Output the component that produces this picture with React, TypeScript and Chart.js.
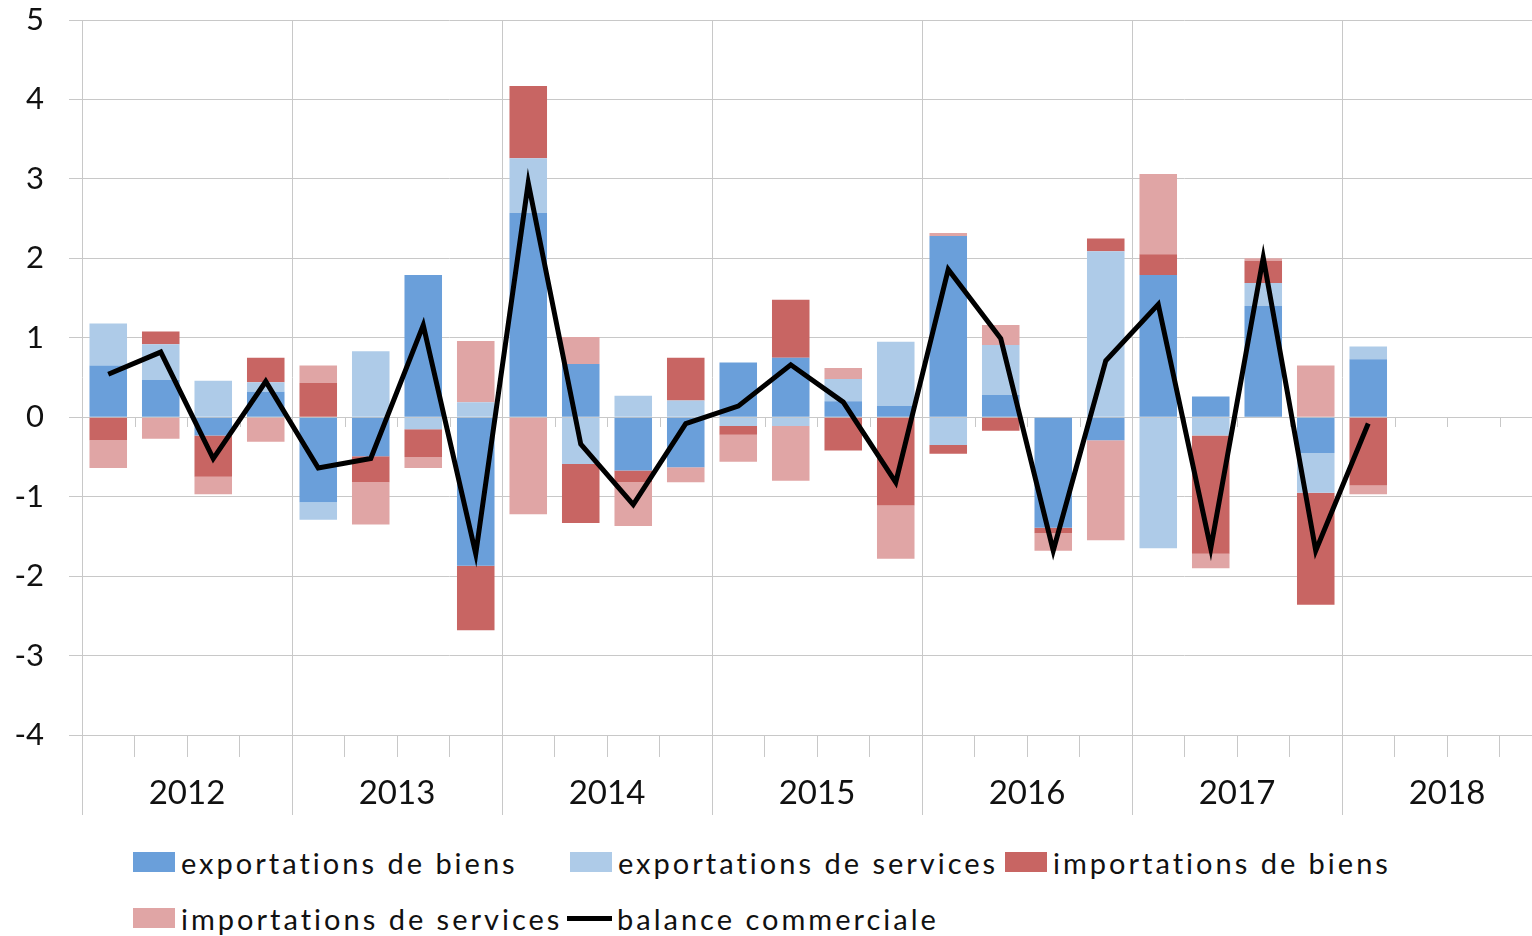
import { useEffect, useRef } from "react";
import { Chart, registerables } from "chart.js";

Chart.register(...registerables);

const quarterLabels = [
  "2012 T1", "2012 T2", "2012 T3", "2012 T4",
  "2013 T1", "2013 T2", "2013 T3", "2013 T4",
  "2014 T1", "2014 T2", "2014 T3", "2014 T4",
  "2015 T1", "2015 T2", "2015 T3", "2015 T4",
  "2016 T1", "2016 T2", "2016 T3", "2016 T4",
  "2017 T1", "2017 T2", "2017 T3", "2017 T4",
  "2018 T1", "2018 T2", "2018 T3", "2018 T4",
];

const yearLabels = ["2012", "2013", "2014", "2015", "2016", "2017", "2018"];

const exportsGoods = [0.65, 0.47, -0.23, 0.32, -1.07, -0.49, 1.79, -1.87, 2.57, 0.67, -0.67, -0.63, 0.69, 0.75, 0.2, 0.14, 2.28, 0.28, -1.39, -0.29, 1.79, 0.26, 1.4, -0.45, 0.73, null, null, null];
const exportsServices = [0.53, 0.45, 0.46, 0.12, -0.22, 0.83, -0.15, 0.19, 0.69, -0.59, 0.27, 0.21, -0.11, -0.11, 0.28, 0.81, -0.35, 0.63, 0, 2.09, -1.65, -0.23, 0.29, -0.5, 0.16, null, null, null];
const importsGoods = [-0.29, 0.16, -0.52, 0.31, 0.43, -0.33, -0.35, -0.81, 0.91, -0.74, -0.15, 0.54, -0.11, 0.73, -0.42, -1.11, -0.11, -0.17, -0.07, 0.16, 0.26, -1.49, 0.28, -1.41, -0.86, null, null, null];
const importsServices = [-0.35, -0.27, -0.22, -0.31, 0.22, -0.53, -0.14, 0.77, -1.22, 0.34, -0.55, -0.19, -0.34, -0.69, 0.14, -0.67, 0.04, 0.25, -0.22, -1.26, 1.01, -0.18, 0.03, 0.65, -0.11, null, null, null];
const tradeBalance = [0.54, 0.82, -0.52, 0.45, -0.64, -0.52, 1.16, -1.72, 2.95, -0.34, -1.1, -0.08, 0.14, 0.66, 0.19, -0.82, 1.86, 0.99, -1.68, 0.71, 1.42, -1.65, 2.01, -1.68, -0.08, null, null, null];

const seriesNames = [
  "exportations de biens",
  "exportations de services",
  "importations de biens",
  "importations de services",
  "balance commerciale",
];

const COLORS = ["#6A9FDA", "#AECBE8", "#C86563", "#E0A5A5", "#000000"];
const GRID = "#c8c8c8";
const FONT = "Lato";
const TEXT = "#111111";

const zeroTicks = {
  id: "zeroTicks",
  beforeDatasetsDraw(chart: any) {
    const x = chart.scales.x;
    const y = chart.scales.y;
    const y0 = Math.round(y.getPixelForValue(0));
    const ctx = chart.ctx;
    ctx.save();
    ctx.strokeStyle = GRID;
    ctx.lineWidth = 1;
    for (let i = 1; i < quarterLabels.length; i++) {
      if (i % 4 === 0) continue;
      const px = Math.round((x.getPixelForValue(i - 1) + x.getPixelForValue(i)) / 2) + 0.5;
      ctx.beginPath();
      ctx.moveTo(px, y0);
      ctx.lineTo(px, y0 + 10);
      ctx.stroke();
    }
    ctx.restore();
  },
};

export default function App() {
  const canvasRef = useRef<HTMLCanvasElement | null>(null);

  useEffect(() => {
    const canvas = canvasRef.current;
    if (!canvas) return;
    const barData = [exportsGoods, exportsServices, importsGoods, importsServices];
    const chart = new Chart(canvas, {
      type: "bar",
      data: {
        labels: quarterLabels,
        datasets: [
          {
            type: "line",
            label: seriesNames[4],
            data: tradeBalance,
            borderColor: COLORS[4],
            backgroundColor: COLORS[4],
            borderWidth: 5,
            pointRadius: 0,
            tension: 0,
            stack: "balance",
            order: 0,
            borderJoinStyle: "miter",
          } as any,
          ...barData.map((d, i) => ({
            type: "bar" as const,
            label: seriesNames[i],
            data: d,
            backgroundColor: COLORS[i],
            borderWidth: 0,
            stack: "flows",
            order: 1,
            barPercentage: 0.715,
            categoryPercentage: 1,
          })),
        ],
      },
      options: {
        responsive: false,
        animation: false,
        devicePixelRatio: 1,
        layout: { padding: { top: 20, left: 0, right: 0, bottom: 0 } },
        plugins: {
          legend: { display: false },
          tooltip: { enabled: false },
        },
        scales: {
          x: {
            type: "category",
            position: "bottom",
            stacked: true,
            offset: true,
            weight: 0,
            grid: {
              offset: true,
              drawOnChartArea: false,
              tickLength: 22,
              tickColor: GRID,
              color: GRID,
              lineWidth: 1,
            },
            border: { display: false },
            ticks: { display: false },
            afterFit: (s: any) => {
              s.height = 22;
              s.paddingLeft = 0;
              s.paddingRight = 0;
            },
          },
          x2: {
            type: "category",
            position: "bottom",
            labels: yearLabels,
            offset: true,
            weight: 1,
            grid: {
              offset: true,
              drawOnChartArea: true,
              tickLength: 58,
              color: GRID,
              tickColor: GRID,
              lineWidth: 1,
            },
            border: { display: false },
            ticks: {
              color: TEXT,
              padding: -41,
              maxRotation: 0,
              font: { family: FONT, size: 33 },
            },
            afterFit: (s: any) => {
              s.height = 73;
              s.paddingLeft = 0;
              s.paddingRight = 0;
            },
          },
          y: {
            stacked: true,
            min: -4,
            max: 5,
            grid: {
              color: GRID,
              lineWidth: 1,
              tickLength: 13,
              tickColor: GRID,
            },
            border: { display: false },
            ticks: {
              stepSize: 1,
              color: TEXT,
              padding: 25,
              font: { family: FONT, size: 31 },
            },
            afterFit: (s: any) => {
              s.width = 82;
              s.paddingTop = 0;
              s.paddingBottom = 0;
            },
          },
        },
      },
      plugins: [zeroTicks],
    });
    return () => chart.destroy();
  }, []);

  const legendItems = [
    { i: 0, left: 133, top: 862 },
    { i: 1, left: 570, top: 862 },
    { i: 2, left: 1005, top: 862 },
    { i: 3, left: 133, top: 918 },
    { i: 4, left: 567, top: 918 },
  ];

  return (
    <div
      style={{
        position: "fixed",
        left: 0,
        top: 0,
        width: 1532,
        height: 936,
        overflow: "hidden",
        background: "#ffffff",
      }}
    >
      <canvas ref={canvasRef} width={1552} height={830} style={{ position: "absolute", left: 0, top: 0, width: 1552, height: 830 }} />
      {legendItems.map(({ i, left, top }) => (
        <div
          key={i}
          style={{
            position: "absolute",
            left,
            top: top - 20,
            height: 40,
            display: "flex",
            alignItems: "center",
            whiteSpace: "nowrap",
            fontFamily: FONT,
            fontSize: 29,
            letterSpacing: "3px",
            color: TEXT,
          }}
        >
          {i === 4 ? (
            <span style={{ display: "inline-block", width: 45, height: 5, background: COLORS[4], marginRight: 5 }} />
          ) : (
            <span style={{ display: "inline-block", width: 42, height: 20, background: COLORS[i], marginRight: 6 }} />
          )}
          <span>{seriesNames[i]}</span>
        </div>
      ))}
    </div>
  );
}
